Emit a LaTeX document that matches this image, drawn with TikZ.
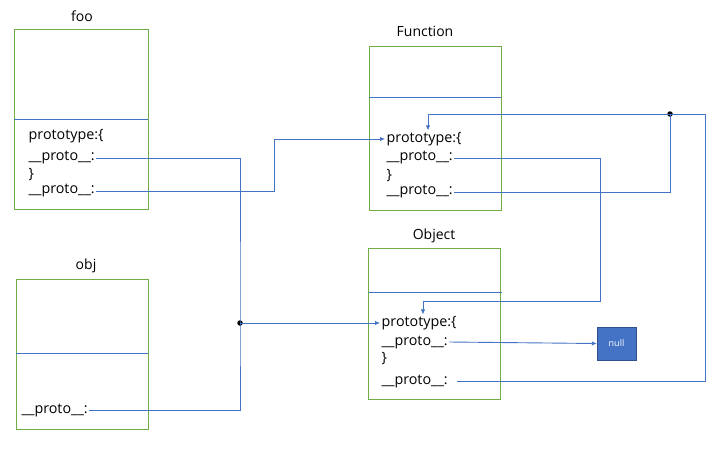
\documentclass[tikz,border=0pt]{standalone}
\usepackage{fontspec}
\setmainfont{Open Sans}
\usetikzlibrary{arrows.meta}
\definecolor{boxgreen}{HTML}{70AD47}
\definecolor{linkblue}{HTML}{4472C4}
\definecolor{nulledge}{HTML}{2F528F}
\begin{document}
\begin{tikzpicture}[x=1pt, y=-1pt,
        box/.style={draw=boxgreen, line width=1pt, anchor=north west, inner sep=0pt},
        divider/.style={draw=linkblue, line width=0.9pt},
        title/.style={font=\fontsize{14}{16}\selectfont},
        field/.style={anchor=west, inner sep=1.5pt, font=\fontsize{14.3}{16}\selectfont},
        link/.style={draw=linkblue, line width=0.9pt},
        arrow/.style={link, -{Latex[length=5pt, width=4.5pt]}},
        dot/.style={circle, fill=black, inner sep=0pt, minimum size=5.5pt},
        nullbox/.style={draw=nulledge, fill=linkblue, text=white, minimum width=39pt, minimum height=33pt, font=\fontsize{9}{11}\selectfont}
      ]
      \useasboundingbox (0,0) rectangle (719,450);

      \node[box, minimum width=134, minimum height=180] (foo) at (14,29) {};
      \node[box, minimum width=132, minimum height=164] (func) at (369,46) {};
      \node[box, minimum width=132, minimum height=151] (object) at (368,248) {};
      \node[box, minimum width=132, minimum height=150] (obj) at (16,279) {};

      \node[title] (fooTitle) at (82,16) {foo};
      \node[title] (funcTitle) at (425,31) {Function};
      \node[title] (objectTitle) at (434,236) {Object};
      \node[title] (objTitle) at (86,266) {obj};

      \draw[divider] (14,119) -- (148,119);
      \draw[divider] (369,97) -- (501,97);
      \draw[divider] (369,292) -- (502,292);
      \draw[divider] (16,353) -- (148,353);

      \node[field] (fooProt) at (27,136) {prototype:\{};
      \node[field] (fooPP) at (27,158) {\_\_proto\_\_:};
      \node[field] (fooEnd) at (27,175) {\}};
      \node[field] (fooP) at (27,191) {\_\_proto\_\_:};

      \node[field] (funcProt) at (385,139) {prototype:\{};
      \node[field] (funcPP) at (385,158) {\_\_proto\_\_:};
      \node[field] (funcEnd) at (385,176) {\}};
      \node[field] (funcP) at (385,192) {\_\_proto\_\_:};

      \node[field] (objectProt) at (380,323) {prototype:\{};
      \node[field] (objectPP) at (380,342) {\_\_proto\_\_:};
      \node[field] (objectEnd) at (380,359) {\}};
      \node[field] (objectP) at (380,381) {\_\_proto\_\_:};

      \node[field] (objP) at (20,410) {\_\_proto\_\_:};

      \node[nullbox] (null) at (616.5,343.5) {null};

      \node[dot] (joinA) at (240,323) {};
      \node[dot] (joinB) at (670,114) {};
      \coordinate (railA) at (274,0);
      \coordinate (railB) at (600,301);
      \coordinate (railC) at (705,114);

      \draw[link] (fooPP.east) -| (joinA.center) |- (objP.east);
      \draw[arrow] (joinA.center) -- (objectProt.west);
      \draw[arrow] (fooP.east) -- (fooP.east -| railA) |- (funcProt.west);

      \draw[arrow] (funcPP.east) -| (railB) -| ([xshift=43pt]objectProt.north west);
      \draw[link] (funcP.east) -| (joinB.center);
      \draw[arrow] (joinB.center) -| ([xshift=43pt]funcProt.north west);
      \draw[link] (joinB.center) -- (railC) |- ([xshift=8pt]objectP.east);

      \draw[arrow] (objectPP.east) -- (null.west);
    \end{tikzpicture}
\end{document}
